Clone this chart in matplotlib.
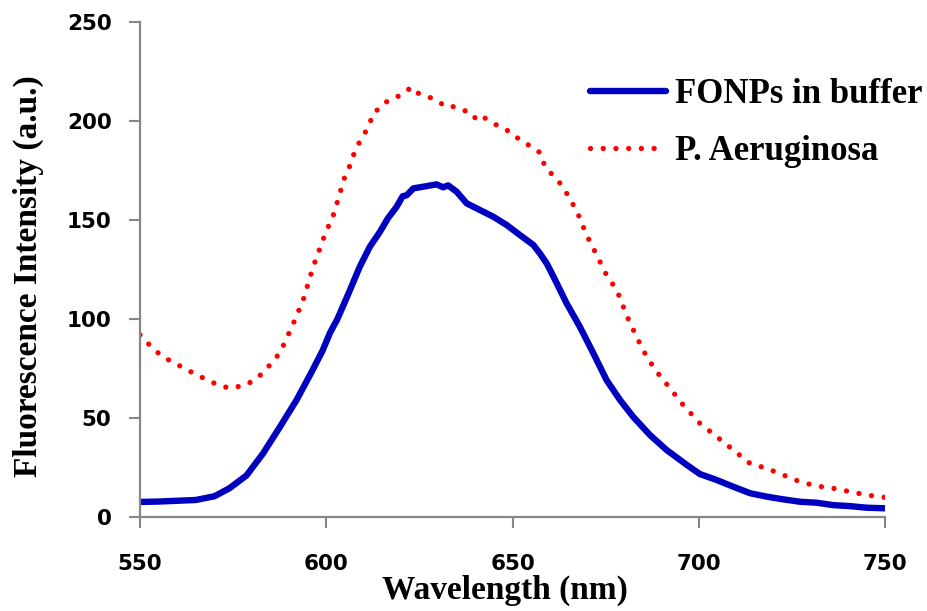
import matplotlib
matplotlib.use("Agg")
import matplotlib.pyplot as plt
import numpy as np

# Emission spectra
buffer_nm = [550, 555, 560, 565, 570, 574, 578.6, 583, 587.6, 592, 596, 599, 601,
             603, 606, 609, 611.7, 614.4, 616.6, 618.9, 620.5, 621.6, 623.4, 626,
             629.6, 631.4, 632.7, 635, 637.7, 641.3, 644.8, 648.4, 652, 655.6,
             657.4, 659.2, 661, 664.5, 668.1, 671.7, 675.3, 678.9, 682.4, 686.9,
             691.4, 696.8, 700.3, 704.8, 709, 713.8, 718.2, 722.7, 727.2, 731.7,
             736.1, 740.6, 745, 750]
buffer_int = [7.6, 7.8, 8.2, 8.6, 10.5, 14.5, 21, 32, 45.6, 59, 73, 84, 93,
              100, 113, 126.4, 136.5, 144, 151, 156.7, 162, 162.5, 166, 166.8,
              168, 166.5, 167.5, 164.3, 158.4, 155, 151.7, 147.5, 142.4, 137.4,
              133, 128, 121.4, 108, 96, 82.7, 69, 59, 50.6, 41.4,
              33.8, 26.3, 21.7, 18.7, 15.5, 12, 10.3, 8.9, 7.7, 7.2,
              6, 5.5, 4.7, 4.4]

pa_nm = [550, 553, 556, 560, 565, 570, 574, 578.6, 583, 587.6, 591, 592.5, 593.8,
         596.5, 599.7, 601.9, 603.7, 604.6, 606.6, 607.7, 609, 610.7, 612, 612.6,
         614.7, 616.2, 618.9, 620.7, 623, 624.3, 627.4, 629.6, 631.9, 633.2,
         635.9, 638.6, 640.3, 641.7, 643.9, 646.6, 649.3, 652, 654.7, 657.4,
         658.7, 662.8, 665.4, 667.7, 669.9, 672.6, 675.3, 678, 680.6, 683.3, 686,
         688.7, 692.3, 695.8, 700.3, 704.8, 709.3, 713.8, 718.2, 722.7, 727.2,
         731.7, 736.1, 740.6, 745, 750]
pa_int = [92, 86, 81, 77, 72, 67.5, 65, 66.7, 72.6, 83, 97, 103.7, 109.6,
          126.4, 143, 152.5, 163.5, 170, 178.6, 185, 189.6, 195, 200.5, 204,
          207, 209.7, 212, 214.3, 217, 214.3, 212.3, 210.3, 207.6, 208,
          205.6, 204.7, 200.8, 202.5, 200, 197, 194.6, 190.4, 187.4, 184,
          177, 168.5, 161, 152.5, 142.4, 132.3, 122, 114.6, 102, 91, 81,
          73.4, 65, 56.6, 47.3, 40.6, 33.8, 27, 24.6, 21.2, 17.8,
          15.6, 14.5, 12.8, 11.1, 9.9]

x_ticks = [550, 600, 650, 700, 750]
y_ticks = [0, 50, 100, 150, 200, 250]

W, H = 928, 611
fig = plt.figure(figsize=(W / 100, H / 100), dpi=100)
ax = fig.add_axes([140 / W, 1 - 517 / H, (885 - 140) / W, (517 - 22) / H])

ax.plot(buffer_nm, buffer_int, color="#0000C0", lw=4.6,
        solid_capstyle="round", solid_joinstyle="round", label="FONPs in buffer")
ax.plot(pa_nm, pa_int, color="#FF0000", lw=3.8, ls=(0, (0.01, 2.4)),
        dash_capstyle="round", label="P. Aeruginosa")

ax.set_xlim(550, 750)
ax.set_ylim(0, 250)
ax.set_xticks(x_ticks)
ax.set_yticks(y_ticks)

for side in ("top", "right"):
    ax.spines[side].set_visible(False)
for side in ("left", "bottom"):
    ax.spines[side].set_color("#878787")
    ax.spines[side].set_linewidth(1.6)

ax.tick_params(axis="both", direction="out", length=8, width=1.5, color="#878787",
               labelsize=15.5)
ax.tick_params(axis="y", pad=12.5)
ax.tick_params(axis="x", pad=19)
for lab in ax.get_xticklabels() + ax.get_yticklabels():
    lab.set_fontweight("bold")
    lab.set_family("DejaVu Sans")

serif = dict(family="Liberation Serif", weight="bold", size=24)
fig.text(505 / W, 1 - 590 / H, "Wavelength (nm)", ha="center", va="center", **serif)
fig.text(28 / W, 1 - 276 / H, "Fluorescence Intensity (a.u.)", rotation=90,
         ha="center", va="center", **serif)

leg_font = dict(family="Liberation Serif", weight="bold", size=25)
ax.legend(loc="upper left", bbox_to_anchor=(590 / W, 1 - 78 / H),
          bbox_transform=fig.transFigure, frameon=False, borderpad=0,
          borderaxespad=0, handlelength=2.2, handletextpad=0.25,
          labelspacing=0.7, prop=leg_font)

fig.savefig("out.png", dpi=100)
